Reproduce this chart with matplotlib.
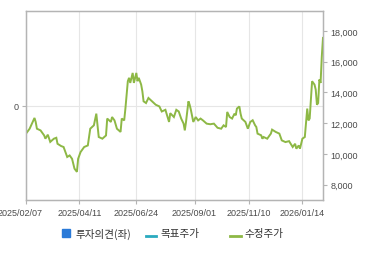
import matplotlib
matplotlib.use("Agg")
import matplotlib.pyplot as plt
import matplotlib.transforms as mtransforms
from matplotlib.lines import Line2D
from matplotlib.patches import Rectangle
from matplotlib.ticker import FuncFormatter

# trading days counted from 2025/02/07, adjusted close (수정주가)
day = [0, 3, 7, 8, 9, 12, 15, 16, 18, 20, 23, 25, 26, 29, 31, 34, 36, 38, 40, 42,
       43, 45, 48, 51, 53, 56, 58, 59, 60, 63, 66, 67, 70, 71, 73, 75, 78, 79, 81, 82,
       84, 85, 86, 88, 89, 91, 92, 93, 95, 96, 97, 99, 101, 104, 107, 110, 112, 115, 118, 119,
       122, 124, 126, 128, 130, 131, 132, 134, 135, 136, 138, 140, 142, 144, 146, 149, 152, 155, 158, 161,
       163, 165, 166, 168, 170, 172, 173, 174, 176, 177, 178, 181, 183, 185, 187, 189, 190, 191, 194, 195,
       196, 199, 202, 203, 206, 209, 211, 214, 217, 220, 222, 223, 225, 226, 228, 230, 232, 233, 234, 236,
       238, 239, 240, 241, 242, 243, 244, 245]
price = [11320, 11640, 12340, 12080, 11640, 11530, 11200, 10990, 11250, 10780,
         10990, 11050, 10660, 10510, 10450, 9800, 9900, 9680, 9040, 8830,
         9680, 10120, 10450, 10550, 11640, 11860, 12620, 11860, 11100, 10990,
         11200, 12300, 12080, 12400, 12180, 11640, 11430, 12300, 12180, 12950,
         14730, 14950, 14620, 15270, 14620, 15270, 14730, 14950, 14510, 14070,
         13420, 13310, 13640, 13420, 13200, 13090, 12760, 12870, 12080, 12650,
         12400, 12870, 12760, 12300, 11970, 11530, 12080, 13420, 13200, 12870,
         12080, 12400, 12180, 12300, 12180, 11970, 11930, 11970, 11700, 11640,
         11860, 11750, 12730, 12400, 12300, 12620, 12510, 12950, 13090, 12620,
         12300, 12080, 11640, 12080, 12190, 11860, 11750, 11320, 11210, 10990,
         11100, 10990, 11320, 11580, 11430, 11320, 10880, 10770, 10830, 10450,
         10660, 10340, 10550, 10340, 10990, 11100, 12950, 12180, 12300, 14730,
         14510, 14180, 13200, 13310, 14840, 14620, 16330, 17550]

# no entries in this period
opinion_day, opinion = [], []
target_day, target = [], []

tick_days = [0, 44, 91, 139, 184, 228]
tick_labels = ["2025/02/07", "2025/04/11", "2025/06/24", "2025/09/01",
               "2025/11/10", "2026/01/14"]
price_ticks = [8000, 10000, 12000, 14000, 16000, 18000]

GREEN = "#8db845"
TEAL = "#2aaabf"
BLUE = "#2a7ad8"
EDGE = "#b4b4b4"
GRID = "#e6e6e6"
LABEL = "#4a4a4a"

W, H = 370, 255
fig = plt.figure(figsize=(W / 100, H / 100), dpi=100)
fig.patch.set_facecolor("white")
ax = fig.add_axes([26 / W, 54 / H, 297 / W, 189 / H])
ax2 = ax.twinx()

ax.plot(opinion_day, opinion, color=BLUE)
ax.plot(target_day, target, color=TEAL)
ax2.plot(day, price, color=GREEN, lw=1.4, solid_joinstyle="miter")

ax.set_xlim(0, 245)
ax.set_ylim(-1, 1)
ax.set_yticks([0])
ax.set_xticks(tick_days)
ax.set_xticklabels(tick_labels)
ax.grid(True, color=GRID, lw=0.8)
ax.set_axisbelow(True)

ax2.set_ylim(7000, 19300)
ax2.set_yticks(price_ticks)
ax2.yaxis.set_major_formatter(FuncFormatter(lambda v, p: f"{int(v):,}"))

for a in (ax, ax2):
    for s in a.spines.values():
        s.set_color(EDGE)
        s.set_linewidth(0.9)
    a.tick_params(length=3, width=0.8, color=EDGE, labelsize=6.5,
                  labelcolor=LABEL, pad=2.5)
    for t in a.get_xticklabels() + a.get_yticklabels():
        t.set_family("Liberation Sans")

# first date label runs off the left edge in the original
first = ax.get_xticklabels()[0]
first.set_transform(first.get_transform()
                    + mtransforms.ScaledTranslation(-0.055, 0, fig.dpi_scale_trans))

# legend drawn by hand in pixel positions
def px(x, y):
    return x / W, 1 - y / H

fig.add_artist(Rectangle(px(62, 238), 8 / W, 8 / H, color=BLUE,
                         transform=fig.transFigure))
fig.add_artist(Line2D([146 / W, 156 / W], [px(0, 236.5)[1]] * 2, color=TEAL,
                      lw=2, transform=fig.transFigure))
fig.add_artist(Line2D([230 / W, 241 / W], [px(0, 236.5)[1]] * 2, color=GREEN,
                      lw=2, transform=fig.transFigure))
for x, s in [(76, "투자의견(좌)"), (160, "목표주가"), (244, "수정주가")]:
    fig.text(*px(x, 234), s, fontsize=7.6, color="#333333", va="center",
             family=["Noto Sans CJK KR", "DejaVu Sans"])

fig.savefig("out.png", dpi=100)
